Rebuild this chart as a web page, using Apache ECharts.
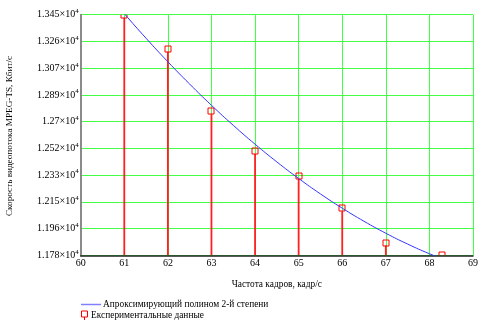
<!DOCTYPE html>
<html>
<head>
<meta charset="utf-8">
<script src="https://cdn.jsdelivr.net/npm/echarts@6/dist/echarts.min.js"></script>
<style>
  html, body { margin: 0; padding: 0; background: #fff; }
  #chart { width: 481px; height: 320px; }
</style>
</head>
<body>
<div id="chart"></div>
<script>
// Measured bitrate at each frame rate
const frameRates = [61, 62, 63, 64, 65, 66, 67, 68.3];
const bitrates = [13446, 13209, 12776, 12500, 12328, 12103, 11864, 11780];

// Second-order approximating polynomial, sampled along the frame-rate axis
const fitX = [60, 60.5, 61, 61.5, 62, 62.5, 63, 63.5, 64, 64.5, 65, 65.5, 66, 66.5, 67, 67.5, 68, 68.5, 69];
const fitY = [13819, 13632, 13453, 13282, 13119, 12964, 12817, 12678, 12547, 12424, 12309, 12202, 12103, 12012, 11929, 11854, 11787, 11728, 11677];

// Axis ranges and tick labels
const yMin = 11776, yMax = 13445.5, yStep = 185.5;
const yTickLabels = ['1.178', '1.196', '1.215', '1.233', '1.252', '1.27', '1.289', '1.307', '1.326', '1.345'];
const xTickLabels = ['60', '61', '62', '63', '64', '65', '66', '67', '68', '69'];

const FONT = 'Liberation Serif';
const TEXT_SIZE = 9.4;

const chart = echarts.init(document.getElementById('chart'), null, { renderer: 'canvas' });

chart.setOption({
  animation: false,
  backgroundColor: '#fff',
  textStyle: { fontFamily: FONT, color: '#000' },
  grid: { left: 80.7, right: 4.3, top: 14.7, bottom: 64.7, containLabel: false },
  xAxis: {
    type: 'value',
    min: 60, max: 69, interval: 1,
    name: 'Частота кадров, кадр/с',
    nameLocation: 'middle',
    nameGap: 25,
    nameTextStyle: { fontFamily: FONT, fontSize: TEXT_SIZE, color: '#000' },
    axisLine: { show: true, lineStyle: { color: '#222', width: 1.5 } },
    axisTick: { show: false },
    axisLabel: {
      margin: 3, fontFamily: FONT, fontSize: 10, color: '#000',
      formatter: (v, i) => xTickLabels[i] !== undefined ? xTickLabels[i] : ''
    },
    splitLine: { show: true, lineStyle: { color: '#44ff44', width: 1 } }
  },
  yAxis: {
    type: 'value',
    min: yMin, max: yMax, interval: yStep,
    axisLine: { show: true, onZero: false, lineStyle: { color: '#8a8a8a', width: 2 } },
    axisTick: { show: false },
    axisLabel: {
      margin: 2, color: '#000',
      formatter: (v, i) => '{b|' + yTickLabels[i] + '×10}{s|4}',
      rich: {
        b: { fontFamily: FONT, fontSize: 10, lineHeight: 14, color: '#000' },
        s: { fontFamily: FONT, fontSize: 7, lineHeight: 14, verticalAlign: 'top', color: '#000' }
      }
    },
    splitLine: { show: true, lineStyle: { color: '#44ff44', width: 1 } }
  },
  legend: [
    {
      data: [{
        name: 'Апроксимирующий полином 2-й степени',
        icon: 'rect',
        itemStyle: { color: '#8080ff' }
      }],
      orient: 'vertical', left: 81, top: 300, padding: 0,
      itemWidth: 20, itemHeight: 1.5, itemGap: 2,
      textStyle: { fontFamily: FONT, fontSize: TEXT_SIZE, color: '#000', padding: [0, 0, 0, -3] }
    },
    {
      data: [{
        name: 'Експериментальные данные',
        icon: 'path://M0,0 L6,0 L6,6 L0,6 Z M3,6 L3,9',
        itemStyle: { color: 'transparent', borderColor: '#ff0000', borderWidth: 1 }
      }],
      orient: 'vertical', left: 81, top: 310.5, padding: 0,
      itemWidth: 6, itemHeight: 9,
      textStyle: { fontFamily: FONT, fontSize: TEXT_SIZE, color: '#000', padding: [0, 0, 0, -1.5] }
    }
  ],
  graphic: [{
    type: 'text',
    x: 10, y: 136,
    rotation: Math.PI / 2,
    style: {
      text: 'Скорость видеопотока MPEG-TS, Кбит/с',
      fontFamily: FONT, fontSize: 9.2, fill: '#000',
      align: 'center', verticalAlign: 'middle'
    }
  }],
  series: [
    {
      name: 'Апроксимирующий полином 2-й степени',
      type: 'line',
      data: fitX.map((x, i) => [x, fitY[i]]),
      smooth: true,
      symbol: 'none',
      clip: true,
      lineStyle: { color: '#3535ff', width: 1 },
      itemStyle: { color: '#3535ff' },
      z: 3
    },
    {
      name: 'Експериментальные данные',
      type: 'custom',
      clip: true,
      data: frameRates.map((x, i) => [x, bitrates[i]]),
      itemStyle: { color: '#ff0000' },
      renderItem: (params, api) => {
        const x = api.value(0), y = api.value(1);
        const p = api.coord([x, y]);
        const base = api.coord([x, yMin]);
        return {
          type: 'group',
          children: [
            // stem from the baseline up to the measured value
            { type: 'line', shape: { x1: p[0], y1: base[1], x2: p[0], y2: p[1] + 3 },
              style: { stroke: '#ff2020', lineWidth: 1.8 } },
            { type: 'rect', shape: { x: Math.round(p[0]) - 3, y: Math.round(p[1]) - 3, width: 6, height: 6 },
              style: { fill: 'none', stroke: '#ff0000', lineWidth: 1 } }
          ]
        };
      },
      z: 2
    }
  ]
});
</script>
</body>
</html>
